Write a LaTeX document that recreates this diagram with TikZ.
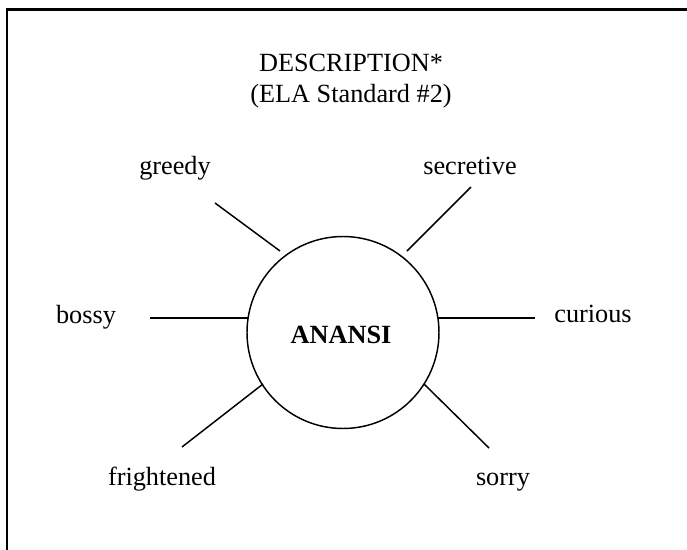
\documentclass[tikz,border=0pt]{standalone}
\usepackage{fontspec}
\setmainfont{Liberation Serif}
\begin{document}
\begin{tikzpicture}[x=0.75pt,y=-0.75pt,
  lbl/.style={inner sep=0pt,anchor=base,font=\fontsize{19.7}{24}\selectfont},
  spoke/.style={line width=1.1pt},
  hub/.style={circle,draw,line width=1.1pt,minimum size=144pt,inner sep=0pt}]
\useasboundingbox (0,0) rectangle (687,550);
% frame
\draw[line width=2.4pt] (6,9.3) -- (687,9.3);
\draw[line width=1.5pt] (6.9,8.5) -- (6.9,550);
% title
\node[lbl] (title1) at (351,71) {DESCRIPTION*};
\node[lbl] (title2) at (351,102) {(ELA Standard \#2)};
% centre
\node[hub] (anansi) at (343,332.5) {};
\node[lbl,font=\fontsize{19.7}{24}\selectfont\bfseries] (name) at (341,343) {ANANSI};
% labels
\node[lbl] (greedy) at (175,174) {greedy};
\node[lbl] (secretive) at (470,174) {secretive};
\node[lbl] (bossy) at (86,323) {bossy};
\node[lbl] (curious) at (593,322) {curious};
\node[lbl] (frightened) at (162,485) {frightened};
\node[lbl] (sorry) at (503,485) {sorry};
% spoke ends
\coordinate (g1) at (215,203); \coordinate (g2) at (280,251);
\coordinate (s1) at (471,187); \coordinate (s2) at (407,251);
\coordinate (b1) at (150,318); \coordinate (b2) at (248,318);
\coordinate (c1) at (535,318); \coordinate (c2) at (438,318);
\coordinate (f1) at (182,447); \coordinate (f2) at (263,384);
\coordinate (r1) at (489,448); \coordinate (r2) at (424,384);
\draw[spoke] (g1) -- (g2);
\draw[spoke] (s1) -- (s2);
\draw[spoke] (b1) -- (b2);
\draw[spoke] (c1) -- (c2);
\draw[spoke] (f1) -- (f2);
\draw[spoke] (r1) -- (r2);
\end{tikzpicture}
\end{document}
